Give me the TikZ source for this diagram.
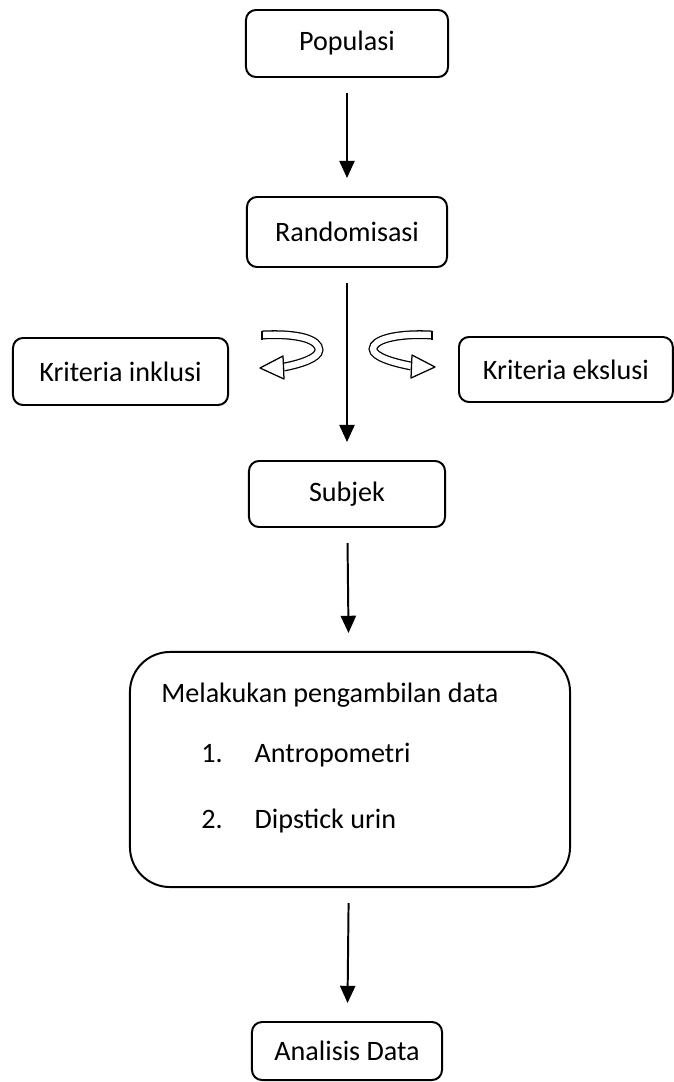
\documentclass[tikz,border=0pt]{standalone}
\usepackage{fontspec}
\setmainfont{Carlito}
\usetikzlibrary{positioning}
\usetikzlibrary{arrows.meta}
\tikzset{box/.style = {draw, rounded corners = 0.25cm, line width = 1.4pt,
                       inner sep = 0, font = \fontsize{20}{24}\selectfont}}
\tikzset{txt/.style = {inner sep = 0, anchor = base west,
                       font = \fontsize{20}{24}\selectfont}}
\tikzset{arr/.style = {line width = 1.4pt,
                       -{Triangle[width = 0.38cm, length = 0.43cm]},
                       shorten < = 0.38cm, shorten > = 0.45cm}}
\tikzset{ribbon/.style = {double = white, double distance = 4.5pt, line width = 0.9pt}}
\tikzset{head/.style = {draw, fill = white, line width = 0.9pt, line join = round}}

\begin{document}
\begin{tikzpicture}[x = 0.025cm, y = -0.025cm]
    \useasboundingbox (0, 0) rectangle (673, 1082);
    \node[box, minimum width = 5.05cm, minimum height = 1.675cm] (pop) at (347, 43.5) {Populasi};
    \node[box, minimum width = 5cm, minimum height = 1.75cm] (rand) at (347, 232) {Randomisasi};
    \node[box, minimum width = 5.375cm, minimum height = 1.675cm] (inkl) at (120.5, 371.5) {Kriteria inklusi};
    \node[box, anchor = west, inner xsep = 0.6cm,
          minimum height = 1.625cm] (eksl) at (458, 369.5) {Kriteria ekslusi\hspace{2cm}};
    \node[box, minimum width = 4.9cm, minimum height = 1.65cm] (subj) at (347, 494) {Subjek};
    \node[box, rounded corners = 1cm, minimum width = 11cm, minimum height = 5.875cm] (data) at (350, 769.5) {};
    \node[box, minimum width = 4.75cm, minimum height = 1.45cm] (anls) at (347, 1051) {Analisis Data};
    % text inside the big box
    \node[txt] (t0) at (161, 702) {Melakukan pengambilan data};
    \node[txt] (t1) at (201, 762) {1.\hspace{0.8cm}Antropometri};
    \node[txt] (t2) at (201, 828) {2.\hspace{0.8cm}Dipstick urin};
    % main flow
    \draw[arr] (pop) -- (rand);
    \draw[arr] (rand) -- (subj);
    \draw[arr] (subj) -- (data);
    \draw[arr] (data) -- (anls);
    % curved arrows
    \draw[ribbon] (262, 335) .. controls (300, 333) and (319, 340) .. (319, 350)
                             .. controls (319, 358) and (300, 364) .. (284, 367);
    \draw[head] (262, 330.5) -- (262, 339.5);
    \draw[head] (283, 356) -- (260, 368) -- (284, 379) -- cycle;
    \draw[ribbon] (432, 335) .. controls (395, 333) and (373, 340) .. (373, 349)
                             .. controls (373, 357) and (395, 363) .. (411, 366);
    \draw[head] (432, 330.5) -- (432, 339.5);
    \draw[head] (412, 355) -- (435, 367) -- (411, 378) -- cycle;
\end{tikzpicture}
\end{document}
